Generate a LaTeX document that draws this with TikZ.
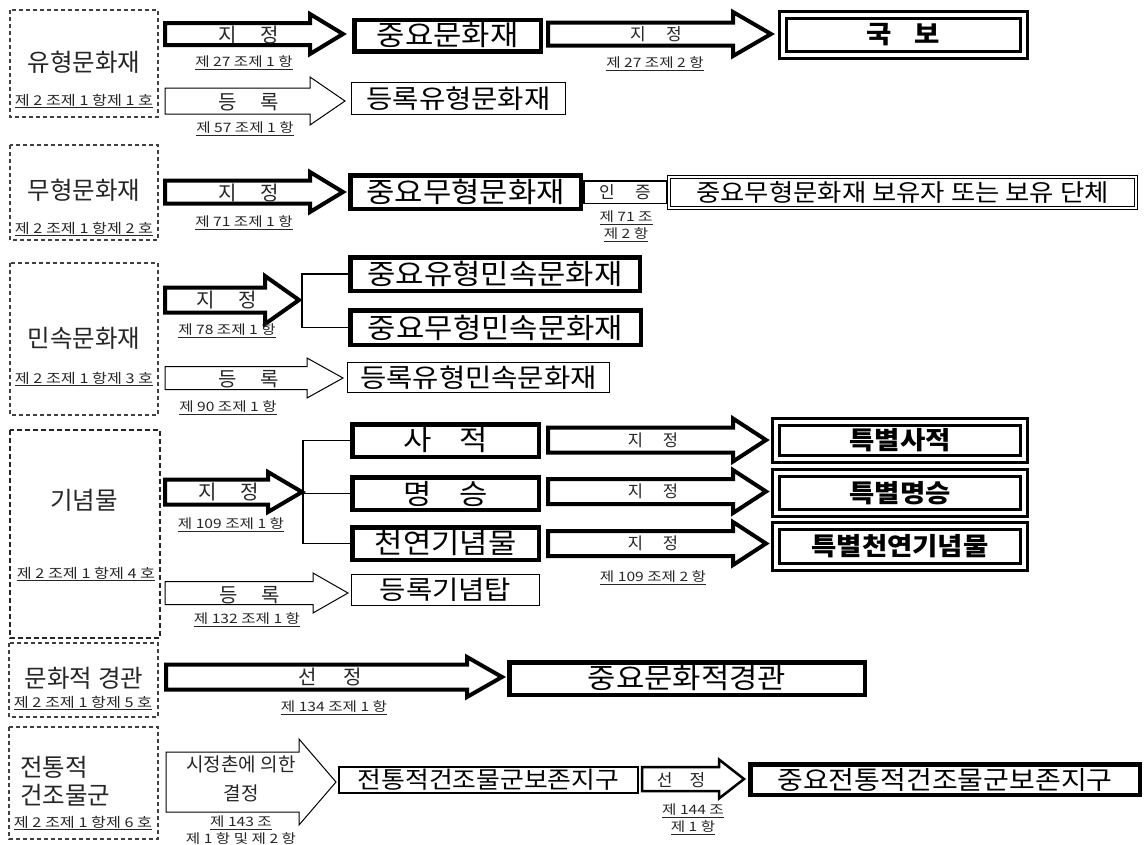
\documentclass[tikz,border=0pt]{standalone}
\usepackage{fontspec}
\newfontfamily\kr{Noto Sans CJK KR}
\newfontfamily\krw[FakeStretch=1.1]{Noto Sans CJK KR}
\newfontfamily\krww[FakeStretch=1.2]{Noto Sans CJK KR}
\newcommand{\blkarrow}[7]{\draw[#1] (#2,#5-#6) -- (#3,#5-#6) -- (#3,#5-#7) -- (#4,#5) -- (#3,#5+#7) -- (#3,#5+#6) -- (#2,#5+#6) -- cycle;}
\tikzset{
  fs/.style={font=\kr\fontsize{#1}{#1}\selectfont},
  fw/.style={font=\krw\fontsize{#1}{#1}\selectfont},
  dbox/.style={draw=black!75, line width=1.2pt, dash pattern=on 4pt off 3pt},
  dboxk/.style={draw=black!85, line width=1.8pt, dash pattern=on 5pt off 3pt},
  thickbox/.style={draw, line width=4.5pt, inner sep=0pt, fw=28},
  thinbox/.style={draw, line width=1.2pt, inner sep=0pt, fw=26},
  dblbox/.style={draw, line width=3pt, double, double distance=4pt, inner sep=0pt, font=\krw\fontsize{25}{25}\selectfont\bfseries},
  thickarr/.style={draw, line width=4pt, line join=miter},
  medarr/.style={draw, line width=2.5pt, line join=miter},
  thinarr/.style={draw, line width=1pt, line join=miter},
  title/.style={fs=24.5, text=black!85, inner sep=0pt},
  lab/.style={fs=20, text=black!85, inner sep=0pt},
  ref/.style={font=\krww\fontsize{13}{13}\selectfont, text=black!85, inner sep=0pt},
  sub/.style={font=\krww\fontsize{13.5}{13.5}\selectfont, text=black!85, inner sep=0pt},
  refii/.style={font=\krww\fontsize{13}{17}\selectfont, text=black!85, inner sep=0pt, align=center},
  conn/.style={line width=1.5pt}
}
\begin{document}
\begin{tikzpicture}[x=1pt,y=-1pt]
\useasboundingbox (0,0) rectangle (1145,844);
% ---------- Section 1 ----------
\draw[dbox] (10,10) rectangle (158,117);
\node[title] (t1) at (84,62) {유형문화재};
\node[sub] (t1r) at (84,101) {\underline{제 2 조제 1 항제 1 호}};
\blkarrow{thickarr}{165}{310}{343}{34}{11}{20}
\node[lab] (a1) at (249,35) {지\hspace{1.2em}정};
\node[ref] (a1r) at (244,63) {\underline{제 27 조제 1 항}};
\node[thickbox, minimum width=186.5pt, minimum height=31.5pt] (jmh) at (447.5,35.5) {중요문화재};
\blkarrow{thickarr}{548}{733}{771}{34}{11.5}{22}
\node[lab, fs=17] (a2) at (656,34) {지\hspace{1.2em}정};
\node[ref] (a2r) at (655,64) {\underline{제 27 조제 2 항}};
\node[dblbox, minimum width=241pt, minimum height=40pt] (gb) at (903.5,35) {국\hspace{0.9em}보};
\blkarrow{thinarr}{165}{310}{345}{101}{13}{24}
\node[lab] (a3) at (249,102) {등\hspace{1.2em}록};
\node[ref] (a3r) at (245,129) {\underline{제 57 조제 1 항}};
\node[thinbox, minimum width=213.8pt, minimum height=31.8pt] (dyh) at (458.5,98.5) {등록유형문화재};
% ---------- Section 2 ----------
\draw[dbox] (10,145) rectangle (158,240);
\node[title] (t2) at (84,190) {무형문화재};
\node[sub] (t2r) at (84,229) {\underline{제 2 조제 1 항제 2 호}};
\blkarrow{thickarr}{165}{310}{343}{192}{11.5}{20}
\node[lab] (b1) at (249,193) {지\hspace{1.2em}정};
\node[ref] (b1r) at (244,223) {\underline{제 71 조제 1 항}};
\node[thickbox, minimum width=230.5pt, minimum height=33.5pt] (jmm) at (465.5,192) {중요무형문화재};
\node[draw, line width=1.5pt, inner sep=0pt, minimum width=82.5pt, minimum height=22.5pt, fs=17, text=black!85] (ij) at (625,192) {인\hspace{1.2em}증};
\node[refii] (ijr) at (626,226) {\underline{제 71 조}\\\underline{제 2 항}};
\node[draw, line width=1.3pt, double, double distance=1.6pt, inner sep=0pt, minimum width=467pt, minimum height=31pt, fw=24] (byj) at (902.5,192.5) {중요무형문화재 보유자 또는 보유 단체};
% ---------- Section 3 ----------
\draw[dbox] (10,263) rectangle (158,415);
\node[title] (t3) at (84,338) {민속문화재};
\node[sub] (t3r) at (84,379) {\underline{제 2 조제 1 항제 3 호}};
\blkarrow{thickarr}{165}{265}{299}{300}{12.5}{24}
\node[lab] (c1) at (227,300) {지\hspace{1.2em}정};
\node[ref] (c1r) at (227,331) {\underline{제 78 조제 1 항}};
\coordinate (j3) at (302,300);
\node[thickbox, minimum width=289.5pt, minimum height=33.5pt] (m1) at (495,274) {중요유형민속문화재};
\node[thickbox, minimum width=290.5pt, minimum height=34.5pt] (m2) at (495.5,327.5) {중요무형민속문화재};
\draw[conn] (j3) |- (m1.west);
\draw[conn] (j3) |- (m2.west);
\blkarrow{thinarr}{165}{307}{343}{378}{11.5}{20}
\node[lab] (c2) at (249,379) {등\hspace{1.2em}록};
\node[ref] (c2r) at (228,408) {\underline{제 90 조제 1 항}};
\node[thinbox, minimum width=261.8pt, minimum height=29.8pt] (dym) at (478.5,377.5) {등록유형민속문화재};
% ---------- Section 4 ----------
\draw[dboxk] (10,430) rectangle (160,638);
\node[title] (t4) at (84,500) {기념물};
\node[sub] (t4r) at (86,574) {\underline{제 2 조제 1 항제 4 호}};
\blkarrow{thickarr}{165}{268}{302}{492}{12.5}{20}
\node[lab] (d1) at (229,492) {지\hspace{1.2em}정};
\node[ref] (d1r) at (231,525) {\underline{제 109 조제 1 항}};
\coordinate (j4) at (303,492);
\node[thickbox, minimum width=186.5pt, minimum height=32.5pt] (s1) at (445.5,440.5) {사\hspace{1em}적};
\node[thickbox, minimum width=186.5pt, minimum height=32.5pt] (s2) at (445.5,493.5) {명\hspace{1em}승};
\node[thickbox, minimum width=186.5pt, minimum height=32.5pt] (s3) at (445.5,543.5) {천연기념물};
\draw[conn] (j4) |- (s1.west);
\draw[conn] (j4) |- (s2.west);
\draw[conn] (j4) |- (s3.west);
\blkarrow{thinarr}{165}{313}{348}{593}{11.5}{20}
\node[lab] (d2) at (250,595) {등\hspace{1.2em}록};
\node[ref] (d2r) at (247,620) {\underline{제 132 조제 1 항}};
\node[thinbox, minimum width=187.8pt, minimum height=30.8pt] (dgt) at (445.5,590) {등록기념탑};
\blkarrow{thickarr}{548}{733}{766}{440}{12.5}{21.5}
\blkarrow{thickarr}{548}{733}{766}{491.5}{12.5}{21.5}
\blkarrow{thickarr}{548}{733}{766}{543.5}{12.5}{21.5}
\node[lab, fs=16.5] (e1) at (653,440) {지\hspace{1.2em}정};
\node[lab, fs=16.5] (e2) at (653,491.5) {지\hspace{1.2em}정};
\node[lab, fs=16.5] (e3) at (653,543.5) {지\hspace{1.2em}정};
\node[ref] (e3r) at (653,578) {\underline{제 109 조제 2 항}};
\node[dblbox, minimum width=248pt, minimum height=37pt] (ts) at (900,440.5) {특별사적};
\node[dblbox, minimum width=248pt, minimum height=40pt] (tm) at (900,493) {특별명승};
\node[dblbox, minimum width=248pt, minimum height=41pt] (tc) at (900,546.5) {특별천연기념물};
% ---------- Section 5 ----------
\draw[dbox] (9,643) rectangle (158,717);
\node[title] (t5) at (84,678) {문화적 경관};
\node[sub] (t5r) at (83,703) {\underline{제 2 조제 1 항제 5 호}};
\blkarrow{thickarr}{166}{467}{502}{677}{12.5}{20}
\node[lab] (f1) at (330,677) {선\hspace{1.3em}정};
\node[ref] (f1r) at (334,708) {\underline{제 134 조제 1 항}};
\node[thickbox, minimum width=355.5pt, minimum height=32.5pt] (jg) at (687,678.5) {중요문화적경관};
% ---------- Section 6 ----------
\draw[dbox] (9,727) rectangle (158,839);
\node[title, anchor=west] (t6a) at (20,767) {전통적};
\node[title, anchor=west] (t6b) at (20,795) {건조물군};
\node[sub] (t6r) at (83,823) {\underline{제 2 조제 1 항제 6 호}};
\blkarrow{thinarr}{166}{299}{336}{782}{30}{43}
\node[align=center, font=\kr\fontsize{19}{29}\selectfont, text=black!85, inner sep=0pt] (g1) at (241,779) {시정촌에 의한\\결정};
\node[refii] (g1r) at (241,831.5) {\underline{제 143 조}\\\underline{제 1 항 및 제 2 항}};
\node[draw, line width=2pt, inner sep=0pt, minimum width=299pt, minimum height=26pt, fw=23.5] (jbj) at (488.5,780) {전통적건조물군보존지구};
\blkarrow{medarr}{642}{719}{744}{779}{12}{19.5}
\node[lab, fs=17] (g2) at (681,780) {선\hspace{1em}정};
\node[refii] (g2r) at (693,819) {\underline{제 144 조}\\\underline{제 1 항}};
\node[thickbox, minimum width=389.5pt, minimum height=30.5pt, fw=25.5] (jjbj) at (945,779.5) {중요전통적건조물군보존지구};
\end{tikzpicture}
\end{document}
